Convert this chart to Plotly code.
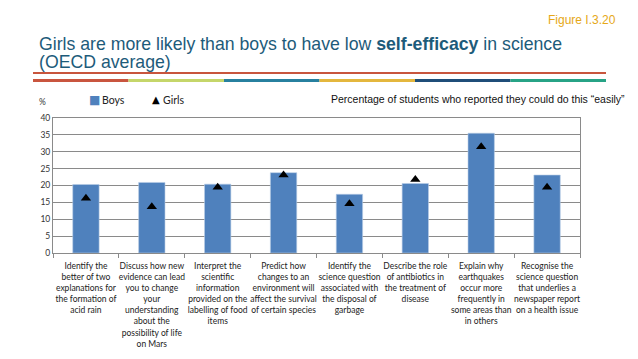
import plotly.graph_objects as go

categories = [
    "Identify the<br>better of two<br>explanations for<br>the formation of<br>acid rain",
    "Discuss how new<br>evidence can lead<br>you to change<br>your<br>understanding<br>about the<br>possibility of life<br>on Mars",
    "Interpret the<br>scientific<br>information<br>provided on the<br>labelling of food<br>items",
    "Predict how<br>changes to an<br>environment will<br>affect the survival<br>of certain species",
    "Identify the<br>science question<br>associated with<br>the disposal of<br>garbage",
    "Describe the role<br>of antibiotics in<br>the treatment of<br>disease",
    "Explain why<br>earthquakes<br>occur more<br>frequently in<br>some areas than<br>in others",
    "Recognise the<br>science question<br>that underlies a<br>newspaper report<br>on a health issue",
]
boys = [20.3, 20.9, 20.4, 23.8, 17.4, 20.6, 35.5, 23.1]
girls = [16.2, 13.7, 19.5, 23.1, 14.6, 21.8, 31.5, 19.5]
y_ticks = [0, 5, 10, 15, 20, 25, 30, 35, 40]

W, H = 638, 359
L, R, T, B = 53, 580, 118, 253

def px(x):
    return (x - L) / (R - L)

def py(y):
    return (B - y) / (B - T)

fig = go.Figure()
fig.add_trace(go.Bar(
    x=categories, y=boys, name="Boys", width=0.4,
    marker=dict(color="#4f81bd", line=dict(color="#b9cde5", width=0.6)),
))
fig.add_trace(go.Scatter(
    x=categories, y=girls, name="Girls", mode="markers",
    marker=dict(symbol="triangle-up", color="black", size=9),
))

fig.update_layout(
    width=W, height=H,
    margin=dict(l=L, r=W - R, t=T, b=H - B, autoexpand=False),
    paper_bgcolor="white", plot_bgcolor="white",
    font=dict(family="Lato, Liberation Sans, sans-serif", color="#222"),
    showlegend=False,
    bargap=0.6,
)
fig.update_yaxes(range=[0, 40], tickvals=y_ticks, showgrid=True, gridcolor="#8a8a8a",
                 gridwidth=0.8, showline=True, linecolor="#8a8a8a", mirror=True,
                 ticks="", tickfont=dict(size=8.5, color="#333"), zeroline=False,
                 fixedrange=True)
fig.update_xaxes(type="category", showline=True, linecolor="#8a8a8a", mirror=True,
                 ticks="outside", tickson="boundaries", ticklen=4, tickcolor="#8a8a8a",
                 tickfont=dict(size=8.5, color="#222", family="Lato, sans-serif"),
                 tickangle=0, ticklabelstandoff=5)

# Legend (as text)
fig.add_annotation(x=px(94), y=py(100), xref="paper", yref="paper", text="\u25a0",
                   showarrow=False, xanchor="center", yanchor="middle",
                   font=dict(size=12, color="#4f81bd", family="DejaVu Sans"))
fig.add_annotation(x=px(100), y=py(100), xref="paper", yref="paper", text="Boys",
                   showarrow=False, xanchor="left", yanchor="middle",
                   font=dict(size=10.5, color="#222", family="Lato, sans-serif"))
fig.add_annotation(x=px(155.5), y=py(99.5), xref="paper", yref="paper", text="\u25b2",
                   showarrow=False, xanchor="center", yanchor="middle",
                   font=dict(size=10, color="black", family="DejaVu Sans"))
fig.add_annotation(x=px(161), y=py(100), xref="paper", yref="paper", text="Girls",
                   showarrow=False, xanchor="left", yanchor="middle",
                   font=dict(size=10.5, color="#222", family="Lato, sans-serif"))

# Titles and texts
fig.add_annotation(x=px(618), y=py(20), xref="paper", yref="paper", text="Figure I.3.20",
                   showarrow=False, xanchor="right", yanchor="middle",
                   font=dict(size=12, color="#e6a817", family="Liberation Sans Narrow, Liberation Sans, Arial"))
fig.add_annotation(x=px(37), y=py(44), xref="paper", yref="paper",
                   text="Girls are more likely than boys to have low <b>self-efficacy</b> in science",
                   showarrow=False, xanchor="left", yanchor="middle", align="left",
                   font=dict(size=17.7, color="#1d5b7a", family="Liberation Sans, Arial"))
fig.add_annotation(x=px(37), y=py(62), xref="paper", yref="paper",
                   text="(OECD average)",
                   showarrow=False, xanchor="left", yanchor="middle", align="left",
                   font=dict(size=17.7, color="#1d5b7a", family="Liberation Sans, Arial"))
fig.add_annotation(x=px(627), y=py(99), xref="paper", yref="paper",
                   text="Percentage of students who reported they could do this \u201ceasily\u201d",
                   showarrow=False, xanchor="right", yanchor="middle",
                   font=dict(size=10.5, color="#111", family="Liberation Sans, Arial"))
fig.add_annotation(x=px(37), y=py(102), xref="paper", yref="paper", text="%",
                   showarrow=False, xanchor="left", yanchor="middle",
                   font=dict(size=8.5, color="#333"))

# Decorative lines
fig.add_shape(type="line", xref="paper", yref="paper", x0=px(33), x1=px(606), y0=py(73), y1=py(73),
              line=dict(color="#c8553d", width=2))
seg_colors = ["#c9553f", "#c5d66a", "#27809f", "#e4b73d", "#1f4e79", "#27a386"]
x0, x1 = 33, 606
step = (x1 - x0) / len(seg_colors)
for i, c in enumerate(seg_colors):
    fig.add_shape(type="line", xref="paper", yref="paper",
                  x0=px(x0 + i * step), x1=px(x0 + (i + 1) * step), y0=py(80.5), y1=py(80.5),
                  line=dict(color=c, width=3))

fig.write_html("out.html", config={"displayModeBar": False},
               post_script="document.body.style.margin='0px';")
